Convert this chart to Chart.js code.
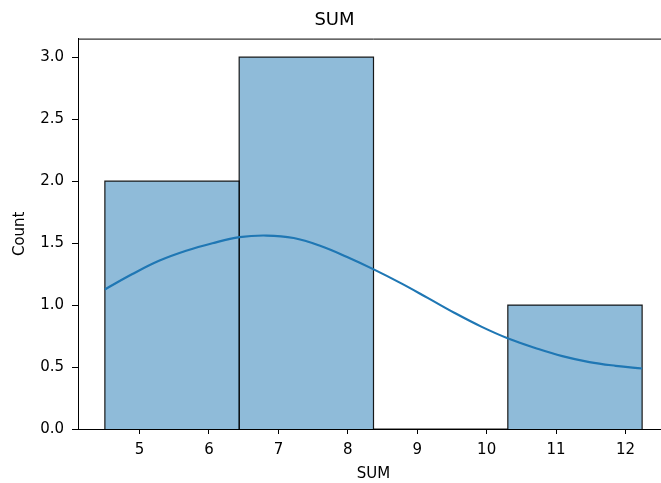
<!DOCTYPE html>
<html>
<head>
<meta charset="utf-8">
<script src="https://cdn.jsdelivr.net/npm/chart.js@4/dist/chart.umd.min.js"></script>
<style>
  html, body { margin: 0; padding: 0; overflow: hidden; background: #fff; }
  #wrap { position: absolute; left: 0; top: 0; width: 669px; height: 483px; }
</style>
</head>
<body>
<div id="wrap"><canvas id="c"></canvas></div>
<script>
// Histogram of SUM: bin edges and counts per bin
const binEdges = [4.5, 6.435, 8.37, 10.305, 12.24];
const counts = [2, 3, 0, 1];

// Kernel density estimate, scaled to counts
const kdeX = [4.5, 4.89, 5.28, 5.67, 6.05, 6.44, 6.83, 7.22, 7.60, 7.99, 8.38, 8.77, 9.15, 9.54, 9.93, 10.32, 10.70, 11.09, 11.48, 11.86, 12.24];
const kdeY = [1.126, 1.248, 1.357, 1.438, 1.499, 1.548, 1.561, 1.541, 1.479, 1.388, 1.286, 1.175, 1.058, 0.936, 0.824, 0.728, 0.654, 0.588, 0.540, 0.510, 0.488];

// Axis ticks
const xTicks = [5, 6, 7, 8, 9, 10, 11, 12];
const yTicks = [0, 0.5, 1.0, 1.5, 2.0, 2.5, 3.0];

const FONT = 'DejaVu Sans';
const span = binEdges[binEdges.length - 1] - binEdges[0];
const xMin = binEdges[0] - 0.05 * span;
const xMax = binEdges[binEdges.length - 1] + 0.05 * span;
const yMax = Math.max(...counts) * 1.05;

// one closed outline per bin, filled down to zero
const barSets = counts.map((c, i) => ({
  data: [
    { x: binEdges[i], y: 0 },
    { x: binEdges[i], y: c },
    { x: binEdges[i + 1], y: c },
    { x: binEdges[i + 1], y: 0 }
  ],
  showLine: true,
  fill: 'origin',
  backgroundColor: 'rgba(31,119,180,0.5)',
  borderColor: 'rgba(0,0,0,0.9)',
  borderWidth: 1.2,
  pointRadius: 0,
  tension: 0,
  order: 1
}));

const kdeSet = {
  data: kdeX.map((x, i) => ({ x, y: kdeY[i] })),
  showLine: true,
  fill: false,
  borderColor: '#1f77b4',
  borderWidth: 2.2,
  pointRadius: 0,
  tension: 0.4,
  order: 0
};

// top spine of the axes frame
const frame = {
  id: 'frame',
  afterDatasetsDraw(chart) {
    const { ctx, chartArea: a } = chart;
    ctx.save();
    ctx.strokeStyle = '#000';
    ctx.lineWidth = 1;
    ctx.beginPath();
    ctx.moveTo(a.left, a.top + 0.5);
    ctx.lineTo(a.right, a.top + 0.5);
    ctx.lineTo(a.right, a.bottom);
    ctx.stroke();
    ctx.restore();
  }
};

new Chart(document.getElementById('c'), {
  type: 'scatter',
  data: { datasets: [...barSets, kdeSet] },
  plugins: [frame],
  options: {
    responsive: true,
    maintainAspectRatio: false,
    animation: false,
    layout: { padding: 0 },
    plugins: {
      legend: { display: false },
      tooltip: { enabled: false },
      title: {
        display: true,
        text: 'SUM',
        color: '#000',
        font: { family: FONT, size: 18, weight: 'normal' },
        padding: { top: 10, bottom: 7 }
      }
    },
    scales: {
      x: {
        type: 'linear',
        min: xMin,
        max: xMax,
        afterFit: s => { s.height = 54; },
        afterBuildTicks: s => { s.ticks = xTicks.map(v => ({ value: v })); },
        ticks: {
          color: '#000',
          font: { family: FONT, size: 15 },
          padding: 7,
          maxRotation: 0,
          includeBounds: false,
          callback: v => String(v)
        },
        grid: { display: true, drawOnChartArea: false, drawTicks: true, tickLength: 5, color: '#000', tickWidth: 1 },
        border: { display: true, color: '#000', width: 1 },
        title: {
          display: true,
          text: 'SUM',
          color: '#000',
          font: { family: FONT, size: 15 },
          padding: { top: 2, bottom: 0 }
        }
      },
      y: {
        type: 'linear',
        min: 0,
        max: yMax,
        afterFit: s => { s.width = 78; },
        afterBuildTicks: s => { s.ticks = yTicks.map(v => ({ value: v })); },
        ticks: {
          color: '#000',
          font: { family: FONT, size: 15 },
          padding: 8,
          includeBounds: false,
          callback: v => Number(v).toFixed(1)
        },
        grid: { display: true, drawOnChartArea: false, drawTicks: true, tickLength: 6, color: '#000', tickWidth: 1 },
        border: { display: true, color: '#000', width: 1 },
        title: {
          display: true,
          text: 'Count',
          color: '#000',
          font: { family: FONT, size: 15 },
          padding: { top: 11, bottom: 6 }
        }
      }
    }
  }
});
</script>
</body>
</html>
